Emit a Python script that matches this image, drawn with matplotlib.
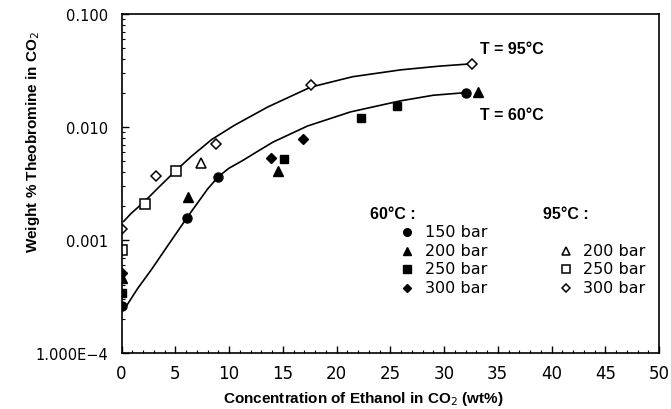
import matplotlib
matplotlib.use("Agg")
import matplotlib.pyplot as plt
from matplotlib.ticker import FixedLocator, FixedFormatter, MultipleLocator, LogLocator, NullFormatter

# ---- data ----
# 60 C series
x60_150 = [0.0, 6.1, 9.0, 32.0]
y60_150 = [0.00026, 0.00155, 0.0036, 0.0201]
x60_200 = [0.0, 6.2, 14.6, 33.2]
y60_200 = [0.00046, 0.0024, 0.0041, 0.0204]
x60_250 = [0.0, 15.1, 22.3, 25.6]
y60_250 = [0.00034, 0.0052, 0.0121, 0.0153]
x60_300 = [0.0, 13.9, 16.9]
y60_300 = [0.00051, 0.0053, 0.0079]
# 95 C series
x95_200 = [7.4]
y95_200 = [0.0048]
x95_250 = [0.0, 2.2, 5.1]
y95_250 = [0.00081, 0.0021, 0.0041]
x95_300 = [0.0, 3.2, 8.8, 17.6, 32.6]
y95_300 = [0.00126, 0.0037, 0.0071, 0.0233, 0.0362]

# fitted curves
curve95_x = [0.2, 0.9, 2.2, 3.5, 5.0, 6.5, 8.4, 10.5, 13.6, 17.6, 21.5, 26.0, 29.5, 32.5]
curve95_y = [0.00146, 0.00172, 0.00222, 0.00295, 0.00407, 0.0055, 0.00776, 0.01035, 0.01503,
             0.02254, 0.02786, 0.03206, 0.03451, 0.03622]
curve60_x = [0.45, 1.5, 2.8, 4.3, 6.1, 7.2, 8.0, 9.0, 10.0, 11.3, 12.7, 14.1, 17.3, 21.3, 25.9, 29.0, 31.9]
curve60_y = [0.00026, 0.000372, 0.00055, 0.00089, 0.00158, 0.00221, 0.00282, 0.00363, 0.00432,
             0.00507, 0.00612, 0.00736, 0.0102, 0.0136, 0.0170, 0.0191, 0.0201]

xticks = [0, 5, 10, 15, 20, 25, 30, 35, 40, 45, 50]
yticks = [1e-4, 1e-3, 1e-2, 1e-1]
ytick_labels = ["1.000E\u22124", "0.001", "0.010", "0.100"]

# ---- figure ----
W, H = 671, 410
fig = plt.figure(figsize=(W / 100, H / 100), dpi=100)
ax = fig.add_axes([121.5 / W, 1 - 354 / H, (659 - 121.5) / W, (354 - 15) / H])
ax.set_xlim(0, 50)
ax.set_yscale("log")
ax.set_ylim(1e-4, 0.1)

tickfont = "DejaVu Sans"
boldfont = "Liberation Sans"
ax.xaxis.set_major_locator(FixedLocator(xticks))
ax.xaxis.set_minor_locator(MultipleLocator(1))
ax.set_xticklabels([str(t) for t in xticks], fontsize=12, family=tickfont)
ax.yaxis.set_major_locator(FixedLocator(yticks))
ax.yaxis.set_major_formatter(FixedFormatter(ytick_labels))
ax.yaxis.set_minor_locator(LogLocator(base=10, subs=range(2, 10)))
ax.yaxis.set_minor_formatter(NullFormatter())
for lab in ax.get_yticklabels():
    lab.set_fontsize(10.5)
    lab.set_family(tickfont)
ax.tick_params(axis="both", which="major", direction="in", length=5, width=1)
ax.tick_params(axis="both", which="minor", direction="in", length=2.5, width=0.8)
ax.tick_params(axis="x", pad=8)
ax.tick_params(axis="y", pad=9.5)
for s in ax.spines.values():
    s.set_linewidth(1.2)

lw = 1.2
ax.plot(curve95_x, curve95_y, color="black", lw=lw)
ax.plot(curve60_x, curve60_y, color="black", lw=lw)

ms = 6.5
ax.plot(x60_150, y60_150, "o", color="black", ms=ms)
ax.plot(x60_200, y60_200, "^", color="black", ms=ms)
ax.plot(x60_250, y60_250, "s", color="black", ms=ms - 0.5)
ax.plot(x60_300, y60_300, "D", color="black", ms=ms - 1.5)
ax.plot(x95_200, y95_200, "^", mfc="white", mec="black", mew=1.1, ms=ms)
ax.plot(x95_250, y95_250, "s", mfc="white", mec="black", mew=1.1, ms=ms)
ax.plot(x95_300, y95_300, "D", mfc="white", mec="black", mew=1.1, ms=ms - 1.5)

# curve labels
ax.text(33.35, 0.05, "T = 95\u00b0C", fontsize=11.5, fontweight="bold", family=boldfont, va="center", ha="left")
ax.text(33.35, 0.0128, "T = 60\u00b0C", fontsize=11.5, fontweight="bold", family=boldfont, va="center", ha="left")

# manual legend
fig.text(370 / W, 1 - 215 / H, "60\u00b0C :", fontsize=11.5, fontweight="bold", family=boldfont, va="center")
fig.text(543 / W, 1 - 215 / H, "95\u00b0C :", fontsize=11.5, fontweight="bold", family=boldfont, va="center")

leg_filled = [("o", "150 bar", 233), ("^", "200 bar", 252), ("s", "250 bar", 270), ("D", "300 bar", 289)]
for m, t, yp in leg_filled:
    fig.lines.append(plt.Line2D([407 / W], [1 - yp / H], marker=m, color="black", ms=5.5 if m != "D" else 4.5,
                                transform=fig.transFigure, linestyle="none"))
    fig.text(425 / W, 1 - yp / H, t, fontsize=11.5, family=tickfont, va="center")
leg_open = [("^", "200 bar", 252), ("s", "250 bar", 270), ("D", "300 bar", 289)]
for m, t, yp in leg_open:
    fig.lines.append(plt.Line2D([566 / W], [1 - yp / H], marker=m, mfc="white", mec="black", mew=1.1,
                                ms=5.5 if m != "D" else 4.5, transform=fig.transFigure, linestyle="none"))
    fig.text(583 / W, 1 - yp / H, t, fontsize=11.5, family=tickfont, va="center")

fig.text(363 / W, 1 - 399 / H, "Concentration of Ethanol in CO$_2$ (wt%)", fontsize=11, fontweight="bold",
         family=boldfont, ha="center", va="center")
fig.text(33 / W, 1 - 142 / H, "Weight % Theobromine in CO$_2$", fontsize=11, fontweight="bold",
         family=boldfont, rotation=90, va="center", ha="center")

fig.savefig("out.png", dpi=100)
